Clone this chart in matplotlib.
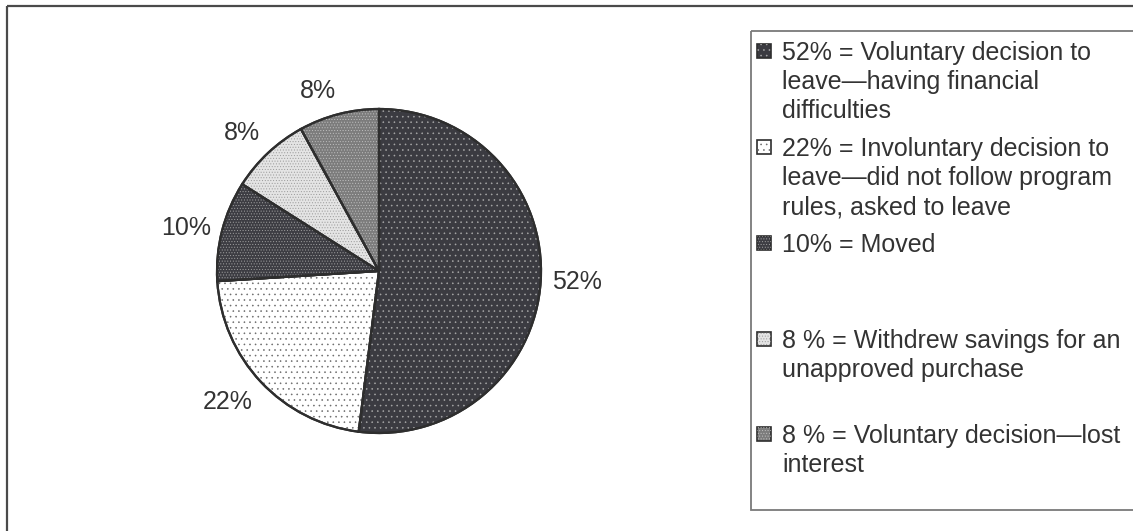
import numpy as np
import matplotlib
matplotlib.use("Agg")
import matplotlib.pyplot as plt
from matplotlib.patches import Rectangle

plt.rcParams['font.family'] = ['Liberation Sans', 'DejaVu Sans']
plt.rcParams['hatch.linewidth'] = 0.4

# data
shares = [52, 22, 10, 8, 8]
legend_labels = [
    "52% = Voluntary decision to\nleave\u2014having financial\ndifficulties",
    "22% = Involuntary decision to\nleave\u2014did not follow program\nrules, asked to leave",
    "10% = Moved",
    "8 % = Withdrew savings for an\nunapproved purchase",
    "8 % = Voluntary decision\u2014lost\ninterest",
]

# style per slice: face, hatch colour, hatch
faces = ['#3b3b41', '#ffffff', '#3d3d43', '#e4e4e4', '#7c7c7c']
hatch_cols = ['#a8a8a8', '#6a6a6a', '#a0a0a0', '#9a9a9a', '#c0c0c0']
hatches = ['...', '...', '......', '......', '......']
text_col = '#333333'
fs = 18

W, H = 1133, 531
fig = plt.figure(figsize=(W / 100, H / 100), dpi=100)

# pixel-space overlay for frame and legend
bg = fig.add_axes([0, 0, 1, 1])
bg.set_xlim(0, W)
bg.set_ylim(H, 0)
bg.axis('off')
bg.add_patch(Rectangle((7, 6), W, H, fill=False, ec='#4a4a4a', lw=1.6))

# pie axes: centre (379, 271) px, radius 162 px
cx, cy, r = 379, 271, 162
lim = 1.3
side = 2 * lim * r
ax = fig.add_axes([(cx - side / 2) / W, (H - cy - side / 2) / H, side / W, side / H])

wedges, _, pcts = ax.pie(shares, startangle=90, counterclock=False,
                         colors=faces, autopct='%.0f%%', pctdistance=1.07,
                         wedgeprops=dict(edgecolor='#2e2e2e', linewidth=1.6),
                         textprops=dict(fontsize=fs, color=text_col))
over, _ = ax.pie(shares, startangle=90, counterclock=False,
                 colors=['none'] * len(shares),
                 wedgeprops=dict(linewidth=0))
for w, hc, h in zip(over, hatch_cols, hatches):
    w.set_edgecolor(hc)
    w.set_hatch(h)
    w.set_linewidth(0)
# redraw outlines on top
outl, _ = ax.pie(shares, startangle=90, counterclock=False,
                 colors=['none'] * len(shares),
                 wedgeprops=dict(edgecolor='#2e2e2e', linewidth=1.6))

# place data labels just outside the rim, anchored on the near side
for w, t in zip(wedges, pcts):
    ang = np.deg2rad((w.theta1 + w.theta2) / 2)
    c, s = np.cos(ang), np.sin(ang)
    t.set_ha('left' if c > 0.2 else ('right' if c < -0.2 else 'center'))
    t.set_va('bottom' if s > 0.3 else ('top' if s < -0.3 else 'center'))

ax.set_xlim(-lim, lim)
ax.set_ylim(-lim, lim)
ax.set_aspect('equal')

# legend box
bg.add_patch(Rectangle((751, 31), W, 479, fill=False, ec='#7a7a7a', lw=1.3))
entry_y = [51, 147, 243, 339, 434]
pitch = 29
for lab, y0, fc, hc, h in zip(legend_labels, entry_y, faces, hatch_cols, hatches):
    bg.add_patch(Rectangle((757, y0 - 7), 14, 14, fc=fc, ec='#2e2e2e', lw=1.2))
    bg.add_patch(Rectangle((757, y0 - 7), 14, 14, fc='none', ec=hc, lw=0, hatch=h))
    for i, line in enumerate(lab.split('\n')):
        bg.text(782, y0 + 9 + i * pitch, line, fontsize=fs, color=text_col,
                ha='left', va='baseline')

fig.savefig('out.png', dpi=100)
